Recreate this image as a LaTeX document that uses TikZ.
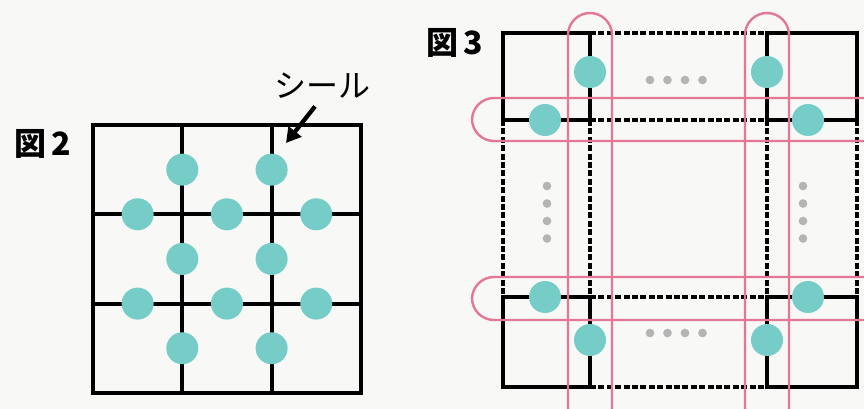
\documentclass[tikz,border=0pt]{standalone}
\usepackage{fontspec}
\usepackage{tikz}
\usetikzlibrary{arrows.meta}
\newfontfamily\jpfont{Noto Sans CJK JP}
\definecolor{paper}{HTML}{F8F8F6}
\definecolor{sealteal}{HTML}{76CCC7}
\definecolor{bandpink}{HTML}{E27893}
\definecolor{dotgray}{HTML}{B4B4B4}

\begin{document}
\begin{tikzpicture}[x=0.75pt,y=-0.75pt,
    grid/.style={line width=3pt, black},
    fold/.style={line width=3pt, black, dash pattern=on 4.5pt off 1.8pt},
    band/.style={line width=1.8pt, draw=bandpink, rounded corners=16.5pt},
    seal/.style={circle, fill=sealteal, inner sep=0pt, minimum size=24pt},
    more/.style={circle, fill=dotgray, inner sep=0pt, minimum size=6.5pt},
    label/.style={font=\jpfont\bfseries\fontsize{24}{24}\selectfont}]

    % paper and fixed frame
    \fill[paper] (0,0) rectangle (864,409);
    \useasboundingbox (0,0) rectangle (864,409);

    % ---- figure 2: 3x3 grid with seals on the inner lines
    \def\gl{93} \def\gt{125} \def\gs{89.3}
    \draw[grid] (\gl,\gt) rectangle ++(3*\gs,3*\gs);
    \foreach \i in {1,2}{
        \draw[grid] (\gl+\i*\gs,\gt) -- ++(0,3*\gs);
        \draw[grid] (\gl,\gt+\i*\gs) -- ++(3*\gs,0);
    }
    \foreach \i in {1,2}{
        \foreach \j in {0,1,2}{
            \node[seal] (v\i\j) at (\gl+\i*\gs,\gt+\j*\gs+0.5*\gs) {};
            \node[seal] (h\i\j) at (\gl+\j*\gs+0.5*\gs,\gt+\i*\gs) {};
        }
    }
    \node[label] (fig2) at (43,144) {図\,2};
    \node[font=\jpfont\fontsize{24}{24}\selectfont] (sticker) at (322,86) {シール};
    \coordinate (stickertip) at (286,143);
    \draw[line width=3.2pt, -{Triangle[length=11pt,width=12pt]}] (sticker.south) ++(-7,3) -- (stickertip);

    % ---- figure 3: corners solid, the rest folded (dashed)
    \def\xa{503} \def\xb{590} \def\xc{767} \def\xd{857}
    \def\ya{33}  \def\yb{120} \def\yc{297} \def\yd{387}
    \draw[fold] (\xb,\ya) -- (\xc,\ya)  (\xb,\yb) -- (\xc,\yb)
                (\xb,\yc) -- (\xc,\yc)  (\xb,\yd) -- (\xc,\yd)
                (\xa,\yb) -- (\xa,\yc)  (\xb,\yb) -- (\xb,\yc)
                (\xc,\yb) -- (\xc,\yc)  (\xd,\yb) -- (\xd,\yc);
    \draw[grid] (\xa,\ya) rectangle (\xb,\yb)  (\xc,\ya) rectangle (\xd,\yb)
                (\xa,\yc) rectangle (\xb,\yd)  (\xc,\yc) rectangle (\xd,\yd);

    % pink bands
    \draw[band] (568,13) rectangle (612,430);
    \draw[band] (745,13) rectangle (789,430);
    \draw[band] (472,98) rectangle (890,141);
    \draw[band] (472,277) rectangle (890,320);

    % seals
    \node[seal] (ctl) at (\xb,72) {};
    \node[seal] (ctr) at (\xc,72) {};
    \node[seal] (ltl) at (545,\yb) {};
    \node[seal] (ltr) at (808,\yb) {};
    \node[seal] (lbl) at (545,\yc) {};
    \node[seal] (lbr) at (808,\yc) {};
    \node[seal] (cbl) at (\xb,340) {};
    \node[seal] (cbr) at (\xc,340) {};

    % and so on ...
    \foreach \k in {0,1,2,3}{
        \node[more] (mt\k) at (650+\k*17.5,80) {};
        \node[more] (mb\k) at (650+\k*17.5,333) {};
        \node[more] (ml\k) at (547,186+\k*17.5) {};
        \node[more] (mr\k) at (803,186+\k*17.5) {};
    }
    \node[label] (fig3) at (455,43) {図\,3};

\end{tikzpicture}
\end{document}
